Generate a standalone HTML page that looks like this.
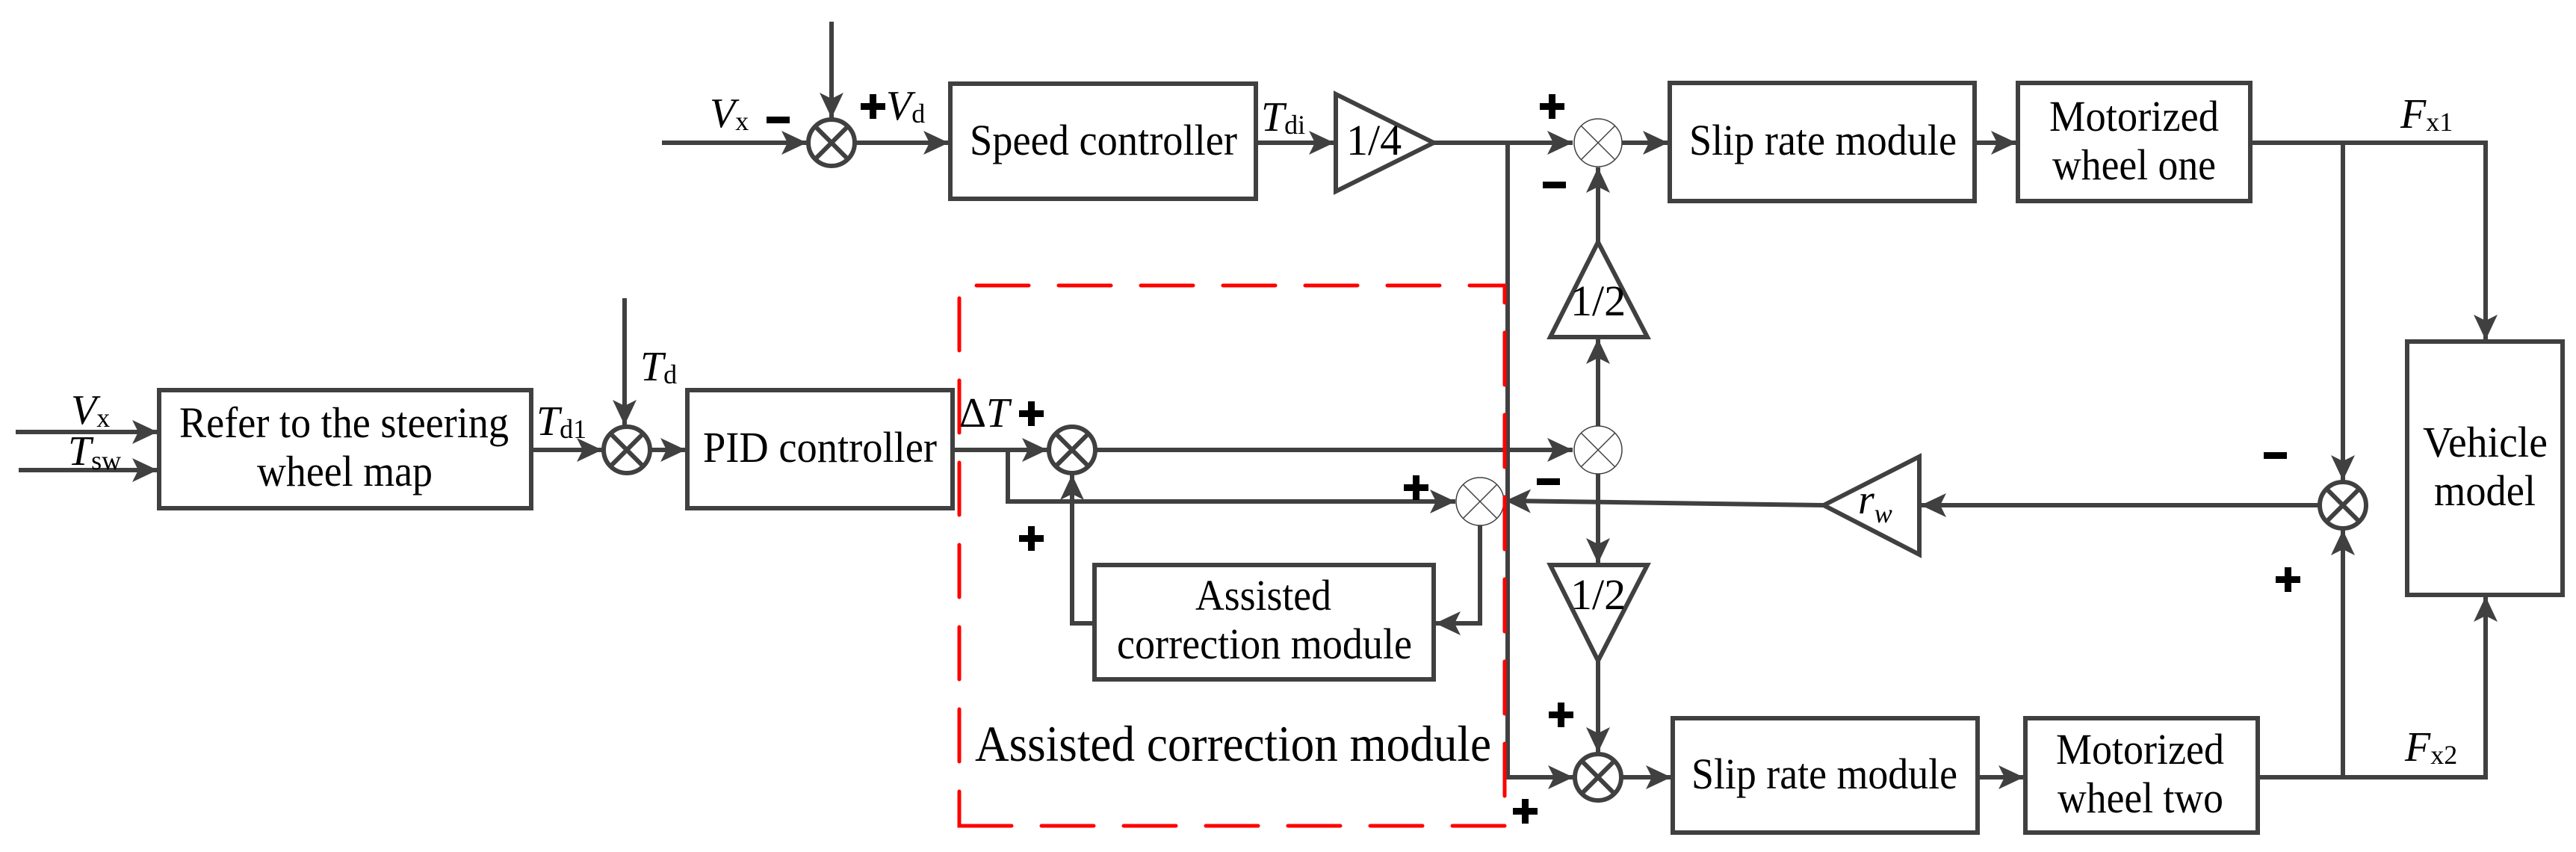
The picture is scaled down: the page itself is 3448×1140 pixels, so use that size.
<!DOCTYPE html>
<html><head><meta charset="utf-8"><style>
html,body{margin:0;padding:0;background:#fff;}
svg{display:block;}
</style></head><body>
<svg width="3448" height="1140" viewBox="0 0 3448 1140" xmlns="http://www.w3.org/2000/svg" font-family="'Liberation Serif', 'Times New Roman', serif">
<defs>
<marker id="a" markerUnits="userSpaceOnUse" markerWidth="40" markerHeight="40" viewBox="0 0 40 40" refX="34" refY="20" orient="auto">
<path d="M0,4 L34,20 L0,36 L8,20 Z" fill="#404040"/>
</marker>
</defs>
<g stroke="#404040" stroke-width="6" fill="none">
<rect x="213" y="522" width="498" height="158"/>
<rect x="920" y="522" width="355" height="158"/>
<rect x="1272" y="112" width="409" height="154"/>
<rect x="2235" y="111" width="408" height="158"/>
<rect x="2701" y="111" width="311" height="158"/>
<rect x="2239" y="961" width="408" height="153"/>
<rect x="2711" y="961" width="311" height="153"/>
<rect x="3222" y="457" width="208" height="339"/>
<rect x="1465" y="756" width="454" height="153"/>
<path d="M1788,126 L1919,191 L1788,256 Z"/>
<path d="M2139,324 L2205,451 L2075,451 Z"/>
<path d="M2075,756 L2205,756 L2139,884 Z"/>
<path d="M2441,676 L2569,611 L2569,742 Z"/>
<circle cx="1113" cy="191" r="31"/>
<path d="M1091,169 L1135,213 M1135,169 L1091,213"/>
<circle cx="839" cy="602" r="31"/>
<path d="M817,580 L861,624 M861,580 L817,624"/>
<circle cx="1435" cy="602" r="31"/>
<path d="M1413,580 L1457,624 M1457,580 L1413,624"/>
<circle cx="2139" cy="1040" r="31"/>
<path d="M2117,1018 L2161,1062 M2161,1018 L2117,1062"/>
<circle cx="3136" cy="676" r="31"/>
<path d="M3114,654 L3158,698 M3158,654 L3114,698"/>
<path d="M886,191 L1080,191" marker-end="url(#a)"/>
<path d="M1113,29 L1113,158" marker-end="url(#a)"/>
<path d="M1144,191 L1270,191" marker-end="url(#a)"/>
<path d="M1681,191 L1786,191" marker-end="url(#a)"/>
<path d="M1919,191 L2105,191" marker-end="url(#a)"/>
<path d="M2171,191 L2233,191" marker-end="url(#a)"/>
<path d="M2643,191 L2699,191" marker-end="url(#a)"/>
<path d="M3012,191 L3327,191 L3327,455" marker-end="url(#a)"/>
<path d="M3136,191 L3136,643" marker-end="url(#a)"/>
<path d="M21,578 L211,578" marker-end="url(#a)"/>
<path d="M25,629 L211,629" marker-end="url(#a)"/>
<path d="M711,602 L806,602" marker-end="url(#a)"/>
<path d="M836,399 L836,569" marker-end="url(#a)"/>
<path d="M870,602 L918,602" marker-end="url(#a)"/>
<path d="M1275,602 L1402,602" marker-end="url(#a)"/>
<path d="M1466,602 L2105,602" marker-end="url(#a)"/>
<path d="M1349,602 L1349,671 L1948,671" marker-end="url(#a)"/>
<path d="M1465,834 L1435,834 L1435,635" marker-end="url(#a)"/>
<path d="M1981,703 L1981,834 L1921,834" marker-end="url(#a)"/>
<path d="M2018,191 L2018,1040 L2106,1040" marker-end="url(#a)"/>
<path d="M2139,324 L2139,224" marker-end="url(#a)"/>
<path d="M2139,570 L2139,453" marker-end="url(#a)"/>
<path d="M2139,634 L2139,754" marker-end="url(#a)"/>
<path d="M2139,884 L2139,1007" marker-end="url(#a)"/>
<path d="M2171,1040 L2237,1040" marker-end="url(#a)"/>
<path d="M2647,1040 L2709,1040" marker-end="url(#a)"/>
<path d="M3022,1040 L3327,1040 L3327,798" marker-end="url(#a)"/>
<path d="M3136,1040 L3136,709" marker-end="url(#a)"/>
<path d="M3104,676 L2571,676" marker-end="url(#a)"/>
<path d="M2441,676 L2015,670" marker-end="url(#a)"/>
</g>
<g stroke="#404040" stroke-width="1.5" fill="#fff">
<circle cx="2139" cy="191" r="32"/>
<circle cx="2139" cy="602" r="32"/>
<circle cx="1981" cy="671" r="32"/>
</g>
<g stroke="#404040" stroke-width="1.5">
<path d="M2116,168 L2162,214 M2162,168 L2116,214"/>
<path d="M2116,579 L2162,625 M2162,579 L2116,625"/>
<path d="M1958,648 L2004,694 M2004,648 L1958,694"/>
</g>
<path d="M1284,1105 L2014,1105 L2014,382 L1284,382 Z" fill="none" stroke="#ff0000" stroke-width="5" stroke-dasharray="70,40" stroke-linecap="round"/>
<g font-size="58" fill="#000" font-family="'Liberation Serif', serif">
<text x="240" y="585" textLength="441" lengthAdjust="spacingAndGlyphs">Refer to the steering</text>
<text x="344" y="650" textLength="235" lengthAdjust="spacingAndGlyphs">wheel map</text>
<text x="941" y="618" textLength="313" lengthAdjust="spacingAndGlyphs">PID controller</text>
<text x="1298" y="207" textLength="358" lengthAdjust="spacingAndGlyphs">Speed controller</text>
<text x="2261" y="207" textLength="358" lengthAdjust="spacingAndGlyphs">Slip rate module</text>
<text x="2264" y="1055" textLength="356" lengthAdjust="spacingAndGlyphs">Slip rate module</text>
<text x="2743" y="175" textLength="227" lengthAdjust="spacingAndGlyphs">Motorized</text>
<text x="2747" y="240" textLength="219" lengthAdjust="spacingAndGlyphs">wheel one</text>
<text x="2752" y="1022" textLength="225" lengthAdjust="spacingAndGlyphs">Motorized</text>
<text x="2754" y="1087" textLength="222" lengthAdjust="spacingAndGlyphs">wheel two</text>
<text x="3243" y="611" textLength="167" lengthAdjust="spacingAndGlyphs">Vehicle</text>
<text x="3258" y="676" textLength="136" lengthAdjust="spacingAndGlyphs">model</text>
<text x="1600" y="816" textLength="182" lengthAdjust="spacingAndGlyphs">Assisted</text>
<text x="1495" y="881" textLength="395" lengthAdjust="spacingAndGlyphs">correction module</text>
<text x="1802" y="207">1/4</text>
<text x="2102" y="422">1/2</text>
<text x="2102" y="815">1/2</text>
<text x="1305" y="1018" font-size="68" textLength="691" lengthAdjust="spacingAndGlyphs">Assisted correction module</text>
</g>
<g font-size="56" fill="#000" font-family="'Liberation Serif', serif">
<text x="950" y="170"><tspan font-style="italic">V</tspan><tspan font-size="36" dy="4">x</tspan></text>
<text x="1186" y="160"><tspan font-style="italic">V</tspan><tspan font-size="36" dy="4">d</tspan></text>
<text x="1688" y="175"><tspan font-style="italic">T</tspan><tspan font-size="36" dy="4">di</tspan></text>
<text x="95" y="567"><tspan font-style="italic">V</tspan><tspan font-size="36" dy="4">x</tspan></text>
<text x="91" y="622"><tspan font-style="italic">T</tspan><tspan font-size="36" dy="6">sw</tspan></text>
<text x="718" y="582"><tspan font-style="italic">T</tspan><tspan font-size="36" dy="4">d1</tspan></text>
<text x="857" y="509"><tspan font-style="italic">T</tspan><tspan font-size="36" dy="4">d</tspan></text>
<text x="1284" y="571">Δ<tspan font-style="italic">T</tspan></text>
<text x="3213" y="171"><tspan font-style="italic">F</tspan><tspan font-size="36" dy="4">x1</tspan></text>
<text x="3219" y="1018"><tspan font-style="italic">F</tspan><tspan font-size="36" dy="4">x2</tspan></text>
<text x="2487" y="687"><tspan font-style="italic">r</tspan><tspan font-size="36" font-style="italic" dy="12">w</tspan></text>
</g>
<g fill="#000">
<rect x="1026" y="156" width="31" height="9"/>
<rect x="1152" y="138" width="33" height="9"/><rect x="1164" y="126" width="9" height="33"/>
<rect x="1364" y="549" width="33" height="9"/><rect x="1376" y="537" width="9" height="33"/>
<rect x="1364" y="716" width="33" height="9"/><rect x="1376" y="704" width="9" height="33"/>
<rect x="1879" y="648" width="33" height="9"/><rect x="1891" y="636" width="9" height="33"/>
<rect x="2061" y="138" width="33" height="9"/><rect x="2073" y="126" width="9" height="33"/>
<rect x="2065" y="243" width="31" height="9"/>
<rect x="2057" y="640" width="31" height="9"/>
<rect x="2073" y="952" width="33" height="9"/><rect x="2085" y="940" width="9" height="33"/>
<rect x="2025" y="1081" width="33" height="9"/><rect x="2037" y="1069" width="9" height="33"/>
<rect x="3030" y="605" width="31" height="9"/>
<rect x="3046" y="771" width="33" height="9"/><rect x="3058" y="759" width="9" height="33"/>
</g>
</svg>
</body></html>
